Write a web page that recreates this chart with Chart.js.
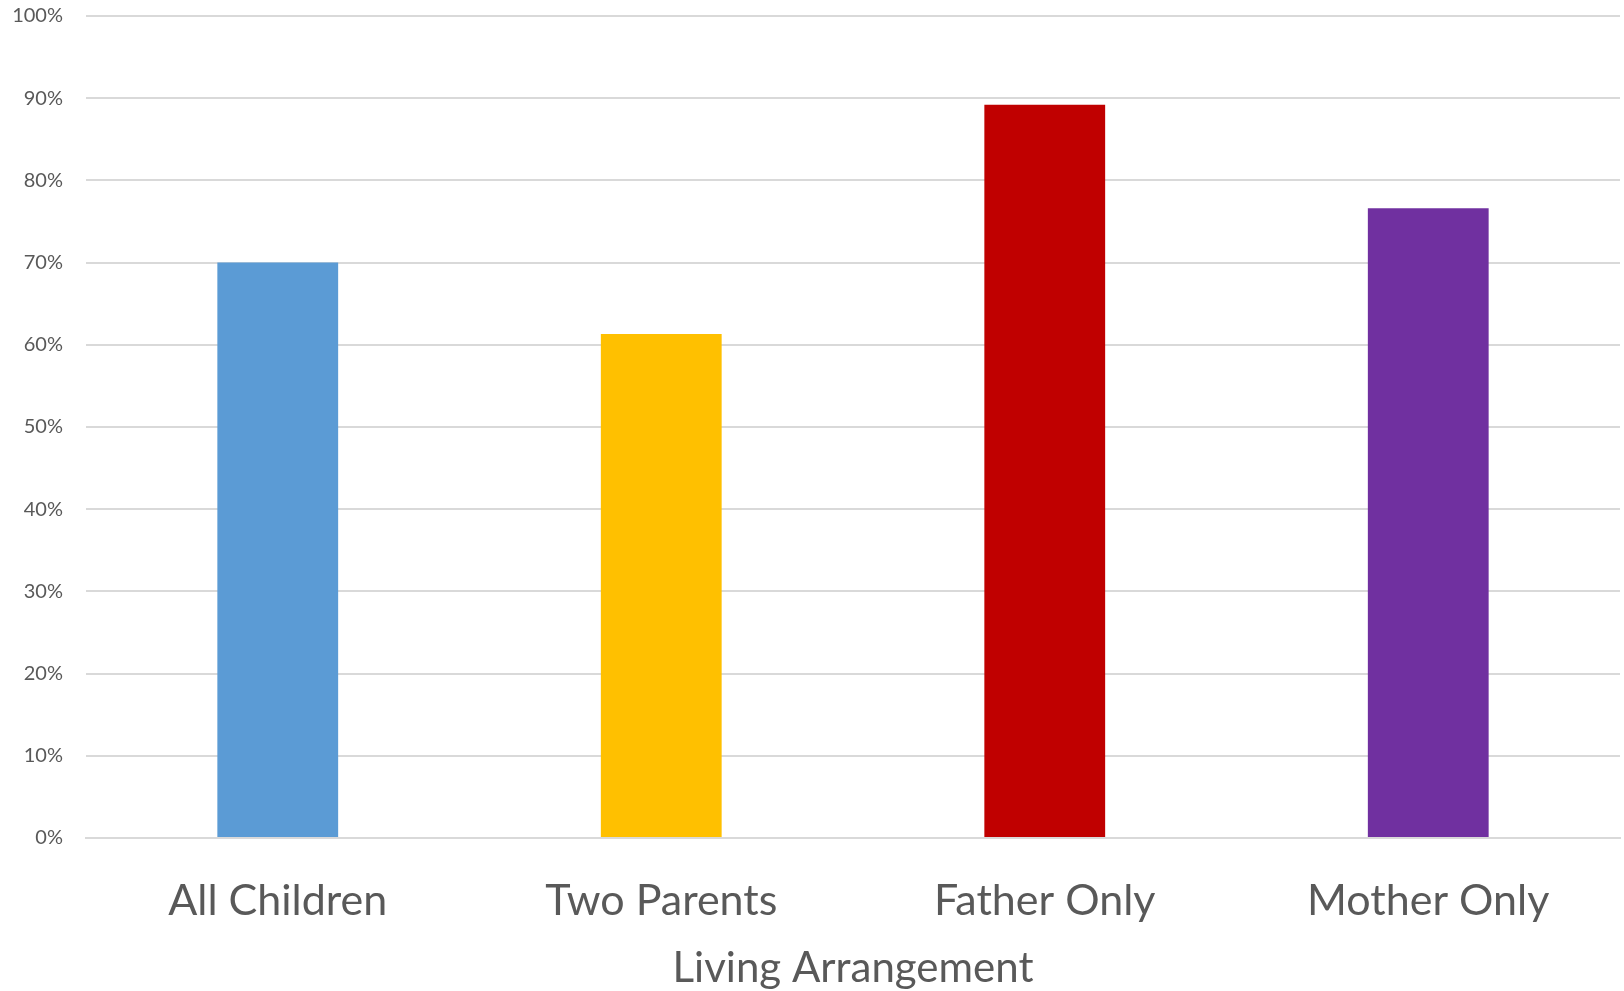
<!DOCTYPE html>
<html>
<head>
<meta charset="utf-8">
<script src="https://cdn.jsdelivr.net/npm/chart.js@4/dist/chart.umd.min.js"></script>
<style>
  html, body { margin: 0; padding: 0; background: #fff; }
  #wrap { width: 1624px; height: 991px; }
</style>
</head>
<body>
<div id="wrap"><canvas id="livingChart"></canvas></div>
<script>
// categories and values (percent)
var categories = ['All Children', 'Two Parents', 'Father Only', 'Mother Only'];
var shares = [70.0, 61.3, 89.2, 76.6];
var barColors = ['#5B9BD5', '#FFC000', '#C00000', '#7030A0'];
var axisTitle = 'Living Arrangement';

var textColor = '#595959';
var gridColor = '#d9d9d9';
var fontFamily = 'Lato, "Open Sans", sans-serif';

const ctx = document.getElementById('livingChart').getContext('2d');
new Chart(ctx, {
    type: 'bar',
    data: {
        labels: categories,
        datasets: [{
            data: shares,
            backgroundColor: barColors,
            categoryPercentage: 1,
            barPercentage: 0.315
        }]
    },
    options: {
        responsive: true,
        maintainAspectRatio: false,
        animation: false,
        layout: { padding: { top: 16, right: 4, left: 0, bottom: 0 } },
        plugins: {
            legend: { display: false },
            tooltip: { enabled: false }
        },
        scales: {
            x: {
                grid: { display: false },
                border: { color: gridColor, width: 2 },
                ticks: {
                    color: textColor,
                    font: { family: fontFamily, size: 43 },
                    padding: 29
                },
                title: {
                    display: true,
                    text: axisTitle,
                    color: textColor,
                    font: { family: fontFamily, size: 42 },
                    padding: { top: -12, bottom: -3 }
                }
            },
            y: {
                min: 0,
                max: 100,
                afterFit: function(axis) {
                    axis.width = 86;
                    axis.paddingTop = 0;
                    axis.paddingBottom = 0;
                },
                border: { display: false },
                grid: { color: gridColor, lineWidth: 2, drawTicks: false },
                ticks: {
                    stepSize: 10,
                    color: textColor,
                    padding: 23,
                    font: { family: fontFamily, size: 20 },
                    callback: function(v) { return v + '%'; }
                }
            }
        }
    }
});
</script>
</body>
</html>
